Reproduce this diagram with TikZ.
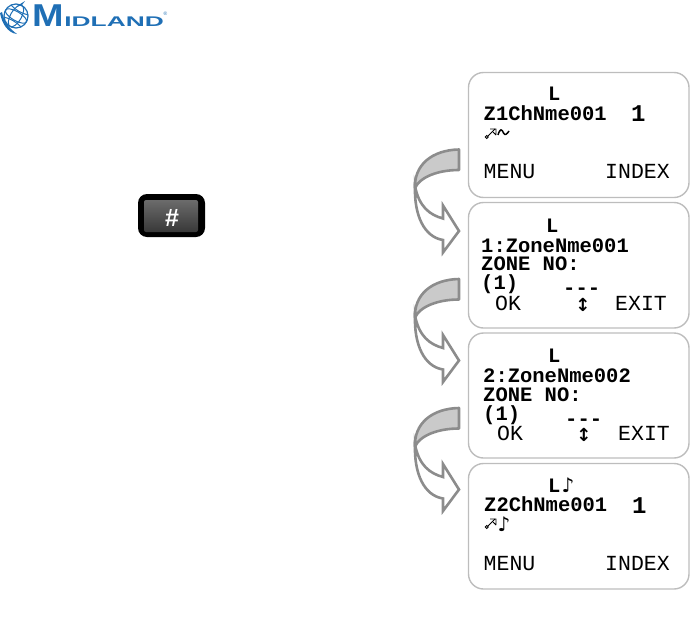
\documentclass[tikz,border=0pt]{standalone}
\usepackage{fontspec}
\setmainfont{Liberation Sans}
\newfontfamily\lcdfont{Liberation Mono}
\newfontfamily\symfont{DejaVu Sans}
\definecolor{midblue}{HTML}{1F6FB5}
\definecolor{boxline}{HTML}{BDBDBD}
\definecolor{arrline}{HTML}{8C8C8C}
\definecolor{arrfill}{HTML}{CACACA}
\tikzset{
  screen/.style={draw=boxline,line width=1.4pt,rounded corners=15pt,fill=white},
  lcdb/.style={anchor=base west,inner sep=0pt,font=\lcdfont\fontsize{20.5}{20.5}\selectfont\bfseries},
  lcdbig/.style={anchor=base west,inner sep=0pt,font=\lcdfont\fontsize{24}{24}\selectfont\bfseries},
  lcdr/.style={anchor=base west,inner sep=0pt,font=\lcdfont\fontsize{21.5}{21.5}\selectfont},
  sym/.style={anchor=base,inner sep=0pt,font=\symfont\fontsize{20}{20}\selectfont\bfseries},
  updown/.style={anchor=base,inner sep=0pt,font=\symfont\fontsize{18}{18}\selectfont\bfseries},
  bendfill/.style={draw=arrline,line width=2.6pt,fill=arrfill,line join=round},
  bendopen/.style={draw=arrline,line width=2.6pt,fill=white,line join=miter},
  icon/.style={line width=.9pt,draw=black},
}
\newcommand{\bendarrow}[1]{%
  \begin{scope}[yshift=#1]
    \path[bendopen] (415,186) .. controls (419,207) and (430,215) .. (443,218.5)
      -- (443,205.5) -- (459,231) -- (443,252.5) -- (443,240)
      .. controls (424,237) and (414,215) .. (415,186) -- cycle;
    \path[bendfill] (459,149.5) .. controls (432,150) and (414,165) .. (415,188)
      .. controls (420,177) and (438,170) .. (459,170) -- cycle;
  \end{scope}}
\newcommand{\antenna}[1]{%
  \begin{scope}[yshift=#1]
    \draw[icon] (486.8,137) circle (1.5);
    \draw[icon] (488,136) -- (495,129);
    \draw[icon] (490,129) -- (496,129) -- (496,135) (493,132) -- (496,135);
  \end{scope}}
\begin{document}
\begin{tikzpicture}[x=1pt,y=-1pt]
\useasboundingbox (0,0) rectangle (690,629);
% logo
\begin{scope}[midblue]
  \draw[line width=1.2pt] (16,16) circle (12);
  \draw[line width=1pt,rotate around={-30:(16,16)}] (16,16) ellipse (5.5 and 12) (16,16) ellipse (12 and 4.5);
  \draw[line width=1pt,rotate around={-30:(16,16)}] (6,9) .. controls (12,11) and (20,11) .. (26,9) (6,23) .. controls (12,21) and (20,21) .. (26,23);
  \fill (0,13) .. controls (2,24) and (8,33) .. (17,34) .. controls (10,29) and (4,22) .. (2,12) -- cycle;
  \fill (17,6) -- (25,1) -- (22,5) -- cycle;
\end{scope}
\node[text=midblue,inner sep=0pt,anchor=base west,xscale=1.22,yscale=1.02,font=\fontsize{31}{31}\selectfont\bfseries] (logoM) at (32,27) {M};
\node[text=midblue,inner sep=0pt,anchor=base west,xscale=1.88,font=\fontsize{14}{14}\selectfont\bfseries] (logoT) at (64,26.5) {IDLAND};
\node[text=midblue,inner sep=0pt,font=\fontsize{5}{5}\selectfont] (logoR) at (165.5,13.5) {®};
% key
\fill[black,rounded corners=9pt] (138,194) rectangle (205,237);
\shade[top color=black!58,bottom color=black!78,rounded corners=2pt] (144,200) rectangle (198,232);
\node[text=white,inner sep=0pt,font=\fontsize{25}{25}\selectfont\bfseries] (hash) at (172,217.5) {\#};
% screens
\draw[screen] (468.5,72.5) rectangle (689,197.5);
\draw[screen] (468.5,202.5) rectangle (689,328);
\draw[screen] (468.5,333) rectangle (689,458);
\draw[screen] (468.5,463.5) rectangle (689,589);
% arrows
\bendarrow{0pt}
\bendarrow{-129.5pt}
\bendarrow{-258.5pt}
% screen 1
\node[lcdb] (a1) at (548,100) {L};
\node[lcdb] (a2) at (483.5,120) {Z1ChNme001};
\node[lcdbig] (a3) at (631,121) {1};
\antenna{0pt}
\draw[line width=1.5pt] (498,135) .. controls (500,128) and (502,129) .. (503.5,133) .. controls (505,136) and (507,134) .. (509,131);
\node[lcdr] (a4) at (483.5,178) {MENU};
\node[lcdr] (a5) at (605,178) {INDEX};
% screen 2
\node[lcdb] (b1) at (546,232) {L};
\node[lcdb] (b2) at (481,252) {1:ZoneNme001};
\node[lcdb] (b3) at (481,270) {ZONE NO:};
\node[lcdb] (b4) at (481,289) {(1)};
\node[lcdb] (b5) at (563,294) {---};
\node[lcdr] (b6) at (495,310) {OK};
\node[updown] (b7) at (583,311) {↕};
\node[lcdr] (b8) at (615,310) {EXIT};
% screen 3
\node[lcdb] (c1) at (548,362) {L};
\node[lcdb] (c2) at (483,382) {2:ZoneNme002};
\node[lcdb] (c3) at (483,401) {ZONE NO:};
\node[lcdb] (c4) at (483,420) {(1)};
\node[lcdb] (c5) at (565,425) {---};
\node[lcdr] (c6) at (497,440) {OK};
\node[updown] (c7) at (584,441) {↕};
\node[lcdr] (c8) at (618,440) {EXIT};
% screen 4
\node[lcdb] (d1) at (548,492) {L};
\node[sym] (d2) at (568,492) {♪};
\node[lcdb] (d3) at (484,511) {Z2ChNme001};
\node[lcdbig] (d4) at (632,513) {1};
\antenna{-390pt}
\node[sym] (d5) at (504,531) {♪};
\node[lcdr] (d6) at (483.5,570) {MENU};
\node[lcdr] (d7) at (605,570) {INDEX};
\end{tikzpicture}
\end{document}
